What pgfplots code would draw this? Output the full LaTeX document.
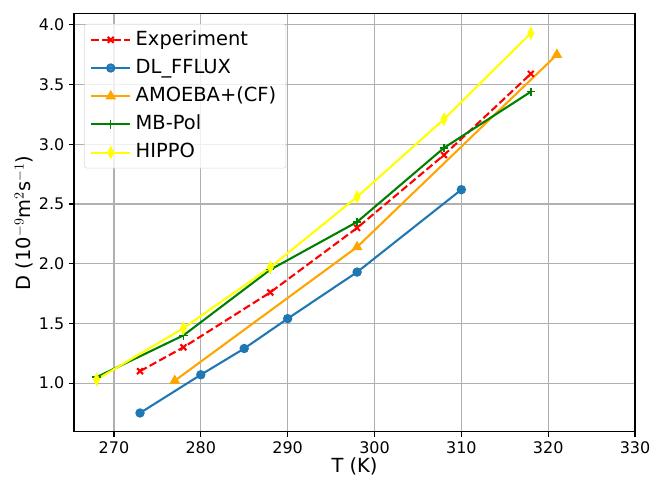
\documentclass[border=0pt]{standalone}
\usepackage{fontspec}
\setmainfont{DejaVu Sans}
\usepackage{pgfplots}
\pgfplotsset{compat=1.18}
\definecolor{mplblue}{HTML}{1F77B4}
\definecolor{mplorange}{HTML}{FFA500}
\definecolor{mplgreen}{HTML}{008000}
\definecolor{mplyellow}{HTML}{FFFF00}
\definecolor{gridgray}{HTML}{B0B0B0}
\begin{document}
\begin{tikzpicture}
\begin{axis}[
  width=404pt, height=301pt, scale only axis,
  xmin=265.4, xmax=330,
  ymin=0.592, ymax=4.092,
  xtick={270,280,...,330},
  ytick={1.0,1.5,...,4.0},
  yticklabel style={/pgf/number format/.cd,fixed,fixed zerofill,precision=1},
  xticklabel style={/pgf/number format/.cd,fixed,1000 sep={}},
  /pgf/number format/assume math mode=true,
  tick pos=left, tick align=outside, major tick length=3.5pt,
  every tick/.style={black, line width=0.8pt},
  axis line style={line width=0.8pt},
  grid=major,
  major grid style={gridgray, line width=0.8pt},
  ticklabel style={font=\fontsize{11.5}{13}\selectfont},
  label style={font=\fontsize{14}{16}\selectfont},
  xlabel={T (K)},
  xlabel style={at={(axis description cs:0.5,0)}, anchor=base, yshift=-29.5pt},
  ylabel={D (10$^{-9}$m$^{2}$s$^{-1}$)},
  ylabel style={at={(axis description cs:-0.089,0.5)}, anchor=center},
  every axis plot/.append style={line width=1.5pt},
  legend cell align=left,
  legend style={at={(0.018,0.976)}, anchor=north west,
    draw=gray!30, rounded corners=2pt, fill=white, fill opacity=0.8, text opacity=1,
    font=\fontsize{14}{16}\selectfont, row sep=4.8pt, inner xsep=4pt, inner ysep=3.5pt,
    nodes={text height=10.5pt, text depth=3pt, inner ysep=1pt, inner xsep=3pt},
    /tikz/every even column/.append style={column sep=5pt}},
  legend image code/.code={\draw[mark repeat=2,mark phase=2,#1] plot coordinates {(0cm,0cm) (0.5cm,0cm) (1.0cm,0cm)};},
]
\coordinate (bl) at (rel axis cs:0,0);
\coordinate (tr) at (rel axis cs:1,1);
\addplot[red, dash pattern=on 5.5pt off 2.4pt, mark=x, mark size=3pt, mark options={solid}]
  coordinates {(273,1.10) (278,1.30) (288,1.76) (298,2.30) (308,2.91) (318,3.59)};
\addlegendentry{Experiment}
\addplot[mplblue, mark=*, mark size=2.6pt]
  coordinates {(273,0.75) (280,1.07) (285,1.29) (290,1.54) (298,1.93) (310,2.62)};
\addlegendentry{DL\_FFLUX}
\addplot[mplorange, mark=triangle*, mark size=3pt]
  coordinates {(277,1.02) (298,2.14) (321,3.75)};
\addlegendentry{AMOEBA+(CF)}
\addplot[mplgreen, mark=+, mark size=3pt, mark options={line width=1pt}]
  coordinates {(268,1.05) (278,1.40) (288,1.95) (298,2.35) (308,2.97) (318,3.44)};
\addlegendentry{MB-Pol}
\addplot[mplyellow, mark=diamond*, mark size=3.4pt, mark options={xscale=0.65}]
  coordinates {(268,1.03) (278,1.46) (288,1.97) (298,2.56) (308,3.21) (318,3.93)};
\addlegendentry{HIPPO}
\end{axis}
\pgfresetboundingbox
\path ([shift={(-53.3pt,-33pt)}]bl) rectangle ([shift={(11.5pt,10pt)}]tr);
\end{tikzpicture}
\end{document}
